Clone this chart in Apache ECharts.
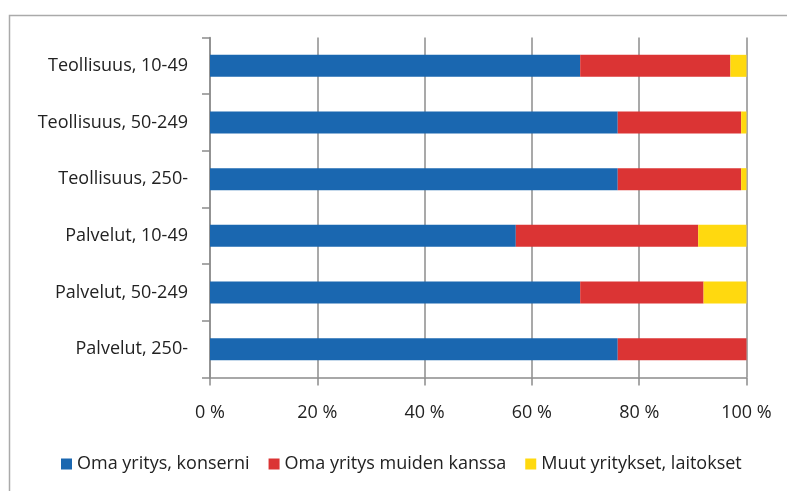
<!DOCTYPE html>
<html>
<head>
<meta charset="utf-8">
<script src="https://cdn.jsdelivr.net/npm/echarts@6/dist/echarts.min.js"></script>
<style>
  html, body { margin: 0; padding: 0; background: #fff; }
  #chart { width: 787px; height: 491px; }
</style>
</head>
<body>
<div id="chart"></div>
<script>
const categories = [
  'Teollisuus, 10-49',
  'Teollisuus, 50-249',
  'Teollisuus, 250-',
  'Palvelut, 10-49',
  'Palvelut, 50-249',
  'Palvelut, 250-'
]
const seriesNames = ['Oma yritys, konserni', 'Oma yritys muiden kanssa', 'Muut yritykset, laitokset']
const omaKonserni = [69, 76, 76, 57, 69, 76]
const omaMuiden = [28, 23, 23, 34, 23, 24]
const muut = [3, 1, 1, 9, 8, 0]
const xTicks = [0, 20, 40, 60, 80, 100]

const colors = ['#1a67b0', '#db3434', '#ffd90f']
const font = '"Open Sans", sans-serif'

const chart = echarts.init(document.getElementById('chart'))

const values = [omaKonserni, omaMuiden, muut]

const option = {
  animation: false,
  textStyle: { fontFamily: font },
  graphic: [
    {
      type: 'rect',
      shape: { x: 9.5, y: 15.5, width: 820, height: 520 },
      style: { fill: 'none', stroke: '#aaaaaa', lineWidth: 1.5 },
      silent: true
    }
  ],
  grid: {
    left: 210,
    right: 40.5,
    top: 37.5,
    bottom: 113.5
  },
  legend: {
    left: 61,
    top: 455,
    padding: 0,
    icon: 'rect',
    itemWidth: 11,
    itemHeight: 11,
    itemGap: 19,
    textStyle: { fontFamily: font, fontSize: 18, color: '#222' },
    data: seriesNames
  },
  xAxis: {
    type: 'value',
    min: xTicks[0],
    max: xTicks[xTicks.length - 1],
    interval: 20,
    axisLine: { show: true, lineStyle: { color: '#8c8c8c', width: 1.5 } },
    axisTick: { show: true, length: 8, lineStyle: { color: '#8c8c8c', width: 1.5 } },
    splitLine: { show: true, lineStyle: { color: '#8c8c8c', width: 1.5 } },
    axisLabel: {
      formatter: '{value} %',
      margin: 26,
      fontSize: 18,
      color: '#222',
      fontFamily: font
    }
  },
  yAxis: {
    type: 'category',
    inverse: true,
    data: categories,
    axisLine: { show: true, lineStyle: { color: '#8c8c8c', width: 1.5 } },
    axisTick: { show: true, length: 8, lineStyle: { color: '#8c8c8c', width: 1.5 } },
    axisLabel: {
      margin: 22,
      fontSize: 18,
      color: '#222',
      fontFamily: font
    }
  },
  series: seriesNames.map((name, i) => ({
    name,
    type: 'bar',
    stack: 'total',
    barWidth: 22,
    itemStyle: { color: colors[i] },
    data: values[i]
  }))
}

chart.setOption(option)
</script>
</body>
</html>
